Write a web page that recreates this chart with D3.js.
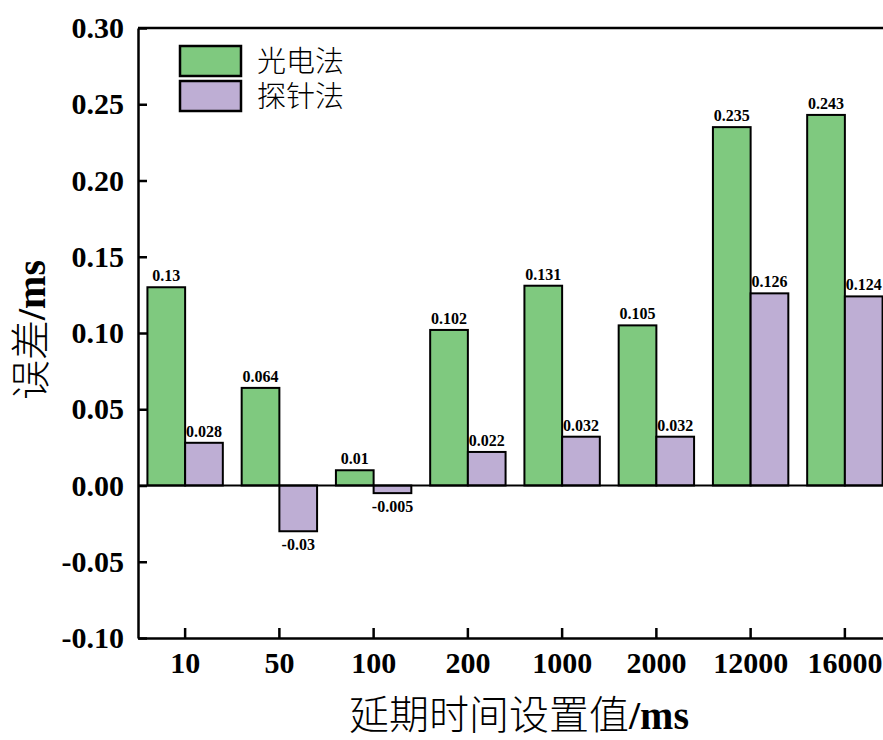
<!DOCTYPE html>
<html lang="zh">
<head>
<meta charset="UTF-8">
<title>误差对比</title>
<script src="https://d3js.org/d3.v7.min.js"></script>
<style>
    body { margin: 0; background: #fff; }
    svg { display: block; }
    .num { font-family: "Liberation Serif", "Times New Roman", serif; font-weight: bold; }
    .cjk { font-family: "Noto Sans CJK SC", sans-serif; font-weight: 300; }
</style>
</head>
<body>
<svg width="883" height="740"></svg>
<script>
    const categories = ["10", "50", "100", "200", "1000", "2000", "12000", "16000"];
    const seriesNames = ["光电法", "探针法"];
    const photoValues = [0.13, 0.064, 0.01, 0.102, 0.131, 0.105, 0.235, 0.243];
    const probeValues = [0.028, -0.03, -0.005, 0.022, 0.032, 0.032, 0.126, 0.124];
    const yTicks = [-0.10, -0.05, 0.00, 0.05, 0.10, 0.15, 0.20, 0.25, 0.30];
    const colors = ["#7fc97f", "#beaed4"];

    const svg = d3.select("svg");
    const plotLeft = 138, plotTop = 28, plotBottom = 638, plotRight = 892;

    const x0 = d3.scaleBand().domain(categories).range([plotLeft, plotRight])
        .paddingInner(0.2).paddingOuter(0.1);
    const x1 = d3.scaleBand().domain(seriesNames).range([0, x0.bandwidth()]);
    const y = d3.scaleLinear().domain([-0.10, 0.30]).range([plotBottom, plotTop]);

    const rows = categories.map((c, i) => ({
        cat: c,
        vals: [
            { name: seriesNames[0], v: photoValues[i], color: colors[0] },
            { name: seriesNames[1], v: probeValues[i], color: colors[1] }
        ]
    }));

    // bars
    const groups = svg.append("g").selectAll("g")
        .data(rows).enter().append("g")
        .attr("transform", d => `translate(${x0(d.cat)},0)`);

    groups.selectAll("rect")
        .data(d => d.vals).enter().append("rect")
        .attr("x", d => x1(d.name))
        .attr("y", d => y(Math.max(0, d.v)))
        .attr("width", x1.bandwidth())
        .attr("height", d => Math.abs(y(d.v) - y(0)))
        .attr("fill", d => d.color)
        .attr("stroke", "#000")
        .attr("stroke-width", 2);

    groups.selectAll("text")
        .data(d => d.vals).enter().append("text")
        .attr("class", "num")
        .attr("x", d => x1(d.name) + x1.bandwidth() / 2)
        .attr("y", d => d.v >= 0 ? y(d.v) - 6 : y(d.v) + 19)
        .attr("text-anchor", "middle")
        .attr("font-size", 16)
        .text(d => String(d.v));

    // zero line
    svg.append("line")
        .attr("x1", plotLeft).attr("x2", plotRight)
        .attr("y1", y(0)).attr("y2", y(0))
        .attr("stroke", "#000").attr("stroke-width", 2);

    // y axis
    const yAxis = svg.append("g")
        .attr("transform", `translate(${plotLeft},0)`)
        .call(d3.axisLeft(y).tickValues(yTicks).tickFormat(d => d3.format(".2f")(d).replace("−", "-"))
            .tickSizeInner(-9).tickSizeOuter(0).tickPadding(14));
    yAxis.select(".domain").attr("stroke-width", 2.5);
    yAxis.selectAll(".tick line").attr("stroke-width", 2.5);
    yAxis.selectAll(".tick text").attr("class", "num").attr("font-size", 30).attr("fill", "#000");

    // x axis
    const xAxis = svg.append("g")
        .attr("transform", `translate(0,${plotBottom})`)
        .call(d3.axisBottom(x0).tickSizeInner(-10).tickSizeOuter(0).tickPadding(14));
    xAxis.select(".domain").attr("stroke-width", 2.5);
    xAxis.selectAll(".tick line").attr("stroke-width", 2.5);
    xAxis.selectAll(".tick text").attr("class", "num").attr("font-size", 30).attr("fill", "#000");

    // top frame
    svg.append("line")
        .attr("x1", plotLeft).attr("x2", plotRight)
        .attr("y1", plotTop).attr("y2", plotTop)
        .attr("stroke", "#000").attr("stroke-width", 2.5);

    // axis titles
    const xt = svg.append("text")
        .attr("x", 519).attr("y", 729)
        .attr("text-anchor", "middle")
        .attr("font-size", 40);
    xt.append("tspan").attr("class", "cjk").text("延期时间设置值");
    xt.append("tspan").attr("class", "num").text("/ms");

    const yt = svg.append("text")
        .attr("transform", `translate(45,330) rotate(-90)`)
        .attr("text-anchor", "middle")
        .attr("font-size", 40);
    yt.append("tspan").attr("class", "cjk").text("误差");
    yt.append("tspan").attr("class", "num").text("/ms");

    // legend
    const legend = svg.append("g").selectAll("g")
        .data(seriesNames).enter().append("g")
        .attr("transform", (d, i) => `translate(180,${46 + i * 35})`);
    legend.append("rect")
        .attr("width", 61).attr("height", 30)
        .attr("fill", (d, i) => colors[i])
        .attr("stroke", "#000").attr("stroke-width", 2.5);
    legend.append("text")
        .attr("class", "cjk")
        .attr("x", 77).attr("y", 26)
        .attr("font-size", 29)
        .text(d => d);
</script>
</body>
</html>
